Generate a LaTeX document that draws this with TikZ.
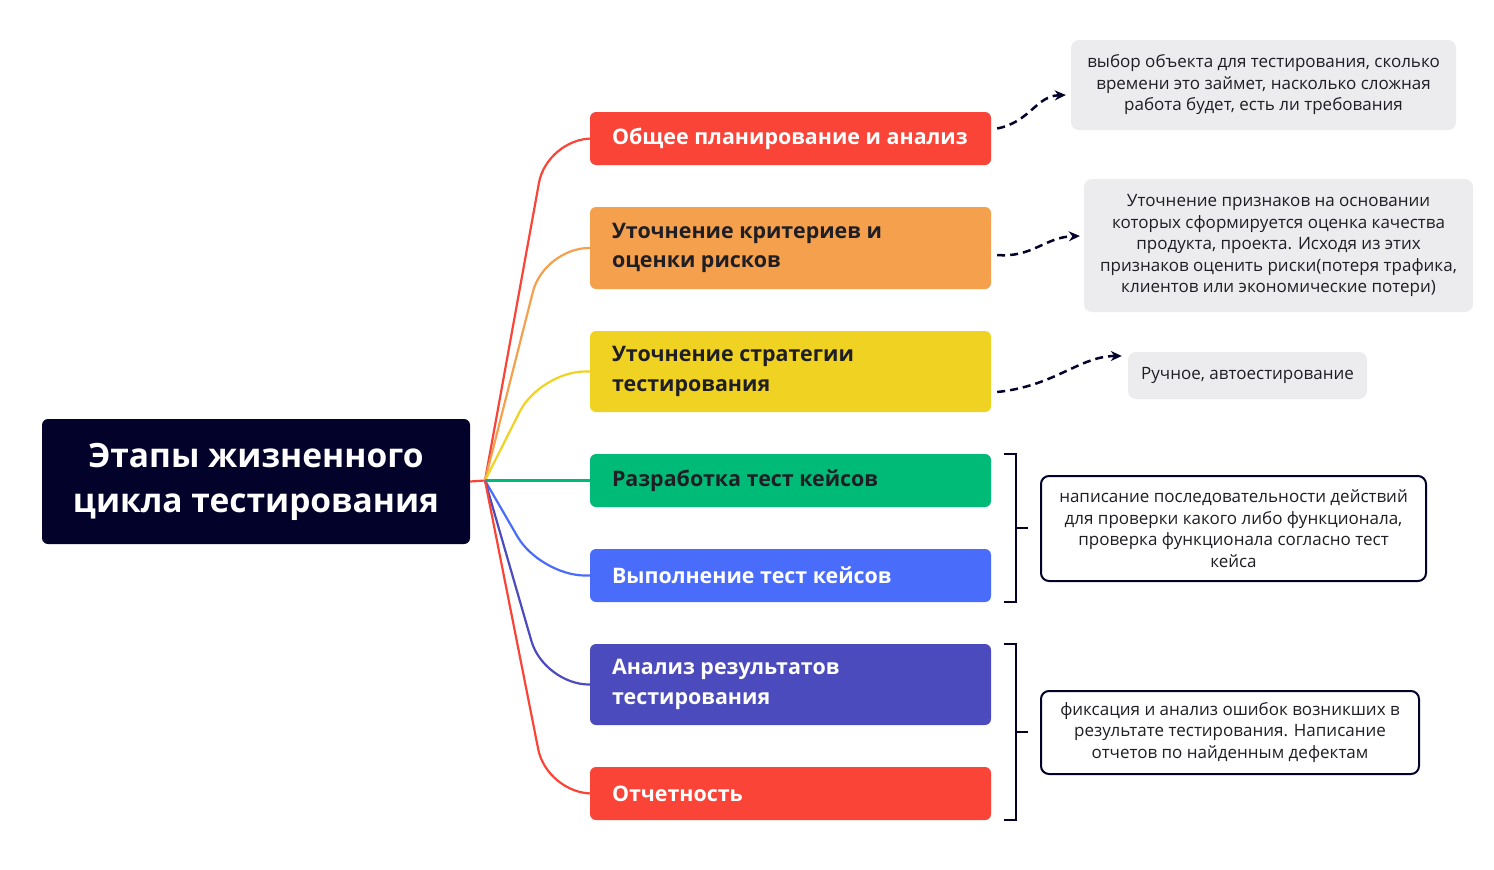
\documentclass[tikz,border=0pt]{standalone}
\usepackage{fontspec}
\setmainfont{Open Sans}
\usetikzlibrary{arrows.meta,calc}
\definecolor{cRed}{HTML}{F94437}
\definecolor{cOrange}{HTML}{F5A04C}
\definecolor{cYellow}{HTML}{F0D322}
\definecolor{cGreen}{HTML}{00BA78}
\definecolor{cBlue}{HTML}{4A6CFA}
\definecolor{cIndigo}{HTML}{4B4BBE}
\definecolor{cNavy}{HTML}{02022A}
\definecolor{cGray}{HTML}{ECEBEE}
\definecolor{cText}{HTML}{1E1E24}
\begin{document}
\begin{tikzpicture}[x=1pt,y=-1pt,
  stagebox/.style={rectangle, rounded corners=6pt, draw=none, minimum width=401pt, inner sep=0pt},
  stagetext/.style={anchor=west, inner sep=0pt, align=left, font=\fontsize{21.4}{29.5}\selectfont\bfseries},
  rootbox/.style={rectangle, rounded corners=6pt, fill=cNavy, text=white, minimum width=428pt, minimum height=125pt, inner sep=0pt, align=center, font=\fontsize{33.5}{45}\selectfont\bfseries},
  graybox/.style={rectangle, rounded corners=8pt, fill=cGray, text=cText, inner sep=0pt, align=center, font=\fontsize{17}{21.5}\selectfont},
  outbox/.style={rectangle, rounded corners=8pt, draw=cNavy, line width=2pt, fill=white, text=cText, inner sep=0pt, align=center, font=\fontsize{17}{21.5}\selectfont},
  branch/.style={line width=2.2pt, rounded corners=45pt},
  dasharrow/.style={draw=cNavy, line width=2.5pt, dash pattern=on 8pt off 5pt, -{Stealth[length=11pt,width=10pt]}},
  bracket/.style={draw=cNavy, line width=2pt}
]
\useasboundingbox (0,0) rectangle (1494,870);

% root
\node[rootbox] (root) at (256,481.5) {Этапы жизненного\\цикла тестирования};
\coordinate (hub) at (485,480.5);

% stages
\node[stagebox, fill=cRed, minimum height=53pt] (b1) at (790.5,138.5) {};
\node[stagebox, fill=cOrange, minimum height=82pt] (b2) at (790.5,248) {};
\node[stagebox, fill=cYellow, minimum height=81pt] (b3) at (790.5,371.5) {};
\node[stagebox, fill=cGreen, minimum height=53pt] (b4) at (790.5,480.5) {};
\node[stagebox, fill=cBlue, minimum height=53pt] (b5) at (790.5,575.5) {};
\node[stagebox, fill=cIndigo, minimum height=81pt] (b6) at (790.5,684.5) {};
\node[stagebox, fill=cRed, minimum height=53pt] (b7) at (790.5,793.5) {};

\node[stagetext, text=white] (t1) at ([xshift=22pt]b1.west) {Общее планирование и анализ};
\node[stagetext, text=cText] (t2) at ([xshift=22pt]b2.west) {Уточнение критериев и\\оценки рисков};
\node[stagetext, text=cText] (t3) at ([xshift=22pt]b3.west) {Уточнение стратегии\\тестирования};
\node[stagetext, text=cText] (t4) at ([xshift=22pt]b4.west) {Разработка тест кейсов};
\node[stagetext, text=white] (t5) at ([xshift=22pt]b5.west) {Выполнение тест кейсов};
\node[stagetext, text=white] (t6) at ([xshift=22pt]b6.west) {Анализ результатов\\тестирования};
\node[stagetext, text=white] (t7) at ([xshift=22pt]b7.west) {Отчетность};

% branches
\draw[line width=2.2pt, cRed] (root.east) -- (hub);
\draw[branch, cRed] (hub) -- (547,138.5) -- (b1.west);
\draw[branch, cOrange] (hub) -- (544,248) -- (b2.west);
\draw[branch, cYellow] (hub) -- (540,371.5) -- (b3.west);
\draw[line width=2.2pt, cGreen] (hub) -- (b4.west);
\draw[branch, cBlue] (hub) -- (540,575.5) -- (b5.west);
\draw[branch, cIndigo] (hub) -- (544,684.5) -- (b6.west);
\draw[branch, cRed] (hub) -- (547,793.5) -- (b7.west);

% gray notes
\node[graybox, minimum width=385pt, minimum height=90pt] (g1) at (1263.5,85) {выбор объекта для тестирования, сколько\\времени это займет, насколько сложная\\работа будет, есть ли требования};
\node[graybox, minimum width=389pt, minimum height=133pt] (g2) at (1278.5,245.5) {Уточнение признаков на основании\\которых сформируется оценка качества\\продукта, проекта. Исходя из этих\\признаков оценить риски(потеря трафика,\\клиентов или экономические потери)};
\node[graybox, minimum width=239pt, minimum height=47pt] (g3) at (1247.5,375.5) {Ручное, автоестирование};

% dashed arrows
\draw[dasharrow] ([shift={(6,-10)}]b1.east) .. controls (1030,122) and (1036,96) .. ([shift={(-5,10)}]g1.west);
\draw[dasharrow] ([shift={(6,7)}]b2.east) .. controls (1032,258) and (1045,237) .. ([shift={(-4,-9.5)}]g2.west);
\draw[dasharrow] ([shift={(6,20.5)}]b3.east) .. controls (1055,386) and (1080,356) .. ([shift={(-6,-19.5)}]g3.west);

% outlined notes
\node[outbox, minimum width=385pt, minimum height=105pt] (oA) at (1233.5,528.5) {написание последовательности действий\\для проверки какого либо функционала,\\проверка функционала согласно тест\\кейса};
\node[outbox, minimum width=378pt, minimum height=83pt] (oB) at (1230,732.5) {фиксация и анализ ошибок возникших в\\результате тестирования. Написание\\отчетов по найденным дефектам};

% brackets
\coordinate (k1t) at ([xshift=13pt]b4.north east);
\coordinate (k1b) at ([xshift=13pt]b5.south east);
\draw[bracket] (k1t) -- ++(12,0) coordinate (k1s) -- (k1s |- k1b) coordinate (k1e) -- (k1b);
\coordinate (k1m) at ($(k1s)!0.5!(k1e)$);
\draw[bracket] (k1m) -- ++(12,0);

\coordinate (k2t) at ([xshift=13pt]b6.north east);
\coordinate (k2b) at ([xshift=13pt]b7.south east);
\draw[bracket] (k2t) -- ++(12,0) coordinate (k2s) -- (k2s |- k2b) coordinate (k2e) -- (k2b);
\coordinate (k2m) at ($(k2s)!0.5!(k2e)$);
\draw[bracket] (k2m) -- ++(12,0);
\end{tikzpicture}
\end{document}
